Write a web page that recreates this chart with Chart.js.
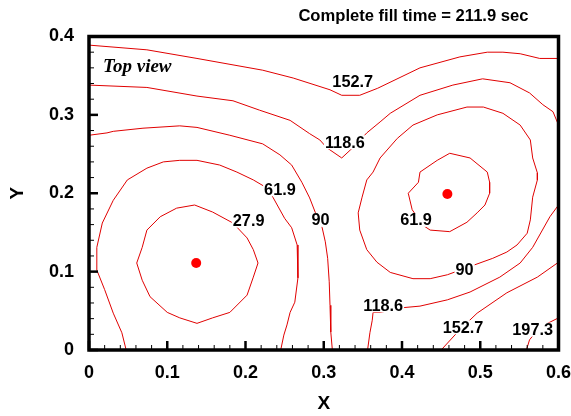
<!DOCTYPE html>
<html>
<head>
<meta charset="utf-8">
<script src="https://cdn.jsdelivr.net/npm/chart.js@4/dist/chart.umd.min.js"></script>
<style>
html,body{margin:0;padding:0;background:#fff;}
#wrap{width:571px;height:416px;}
</style>
</head>
<body>
<div id="wrap"><canvas id="c" width="571" height="416"></canvas></div>
<script>
// ---- data ----
const X_TICK_LABELS = ['0','0.1','0.2','0.3','0.4','0.5','0.6'];
const Y_TICK_LABELS = ['0','0.1','0.2','0.3','0.4'];

const C152_TOP = [[0,0.389],[0.074,0.383],[0.138,0.372],[0.222,0.357],[0.261,0.347],[0.308,0.332],[0.323,0.325],[0.346,0.325],[0.369,0.334],[0.423,0.360],[0.474,0.374],[0.509,0.380],[0.529,0.380],[0.551,0.378],[0.576,0.372],[0.6,0.372]];
const C118_TOP = [[0,0.338],[0.074,0.335],[0.138,0.324],[0.184,0.318],[0.218,0.306],[0.257,0.293],[0.282,0.276],[0.295,0.268],[0.304,0.258],[0.323,0.245],[0.337,0.258],[0.355,0.277],[0.372,0.291],[0.385,0.302],[0.423,0.325],[0.465,0.338],[0.503,0.346],[0.538,0.341],[0.563,0.328],[0.580,0.313],[0.593,0.304],[0.6,0.287]];
const C90_LEFT = [[0,0.274],[0.023,0.277],[0.031,0.279],[0.069,0.283],[0.116,0.286],[0.138,0.284],[0.180,0.274],[0.222,0.263],[0.244,0.249],[0.259,0.236],[0.272,0.214],[0.282,0.194],[0.289,0.176],[0.298,0.156],[0.302,0.138],[0.305,0.117],[0.307,0.087],[0.308,0.057],[0.309,0.023],[0.311,0]];
const C61_LEFT = [[0.0475,0],[0.042,0.022],[0.031,0.047],[0.020,0.077],[0.010,0.102],[0.010,0.131],[0.017,0.162],[0.031,0.191],[0.049,0.217],[0.074,0.232],[0.095,0.240],[0.116,0.242],[0.138,0.242],[0.167,0.236],[0.189,0.227],[0.210,0.217],[0.227,0.207],[0.235,0.195],[0.250,0.168],[0.259,0.156],[0.266,0.134],[0.267,0.108],[0.267,0.092],[0.263,0.061],[0.257,0.048],[0.253,0.032],[0.249,0.019],[0.245,0]];
const C27_LEFT = [[0.135,0.185],[0.158,0.176],[0.184,0.162],[0.202,0.143],[0.210,0.128],[0.216,0.111],[0.210,0.093],[0.202,0.070],[0.180,0.048],[0.158,0.041],[0.138,0.034],[0.116,0.041],[0.100,0.048],[0.078,0.068],[0.068,0.089],[0.061,0.111],[0.068,0.131],[0.074,0.153],[0.091,0.170],[0.112,0.181],[0.135,0.185]];
const C61_RIGHT = [[0.461,0.251],[0.487,0.245],[0.509,0.227],[0.512,0.214],[0.512,0.200],[0.506,0.185],[0.496,0.175],[0.483,0.163],[0.461,0.151],[0.436,0.153],[0.427,0.159],[0.413,0.179],[0.408,0.200],[0.421,0.214],[0.423,0.227],[0.445,0.242],[0.461,0.251]];
const C90_RIGHT = [[0.355,0.217],[0.363,0.227],[0.372,0.245],[0.394,0.270],[0.414,0.287],[0.445,0.300],[0.483,0.310],[0.504,0.310],[0.529,0.302],[0.551,0.287],[0.564,0.268],[0.567,0.245],[0.573,0.226],[0.573,0.217],[0.567,0.195],[0.564,0.166],[0.560,0.149],[0.547,0.134],[0.534,0.125],[0.516,0.117],[0.491,0.108],[0.458,0.096],[0.436,0.091],[0.414,0.091],[0.385,0.099],[0.368,0.112],[0.355,0.128],[0.346,0.153],[0.344,0.175],[0.349,0.195],[0.355,0.217]];
const C118_BOT = [[0.6,0.185],[0.589,0.170],[0.567,0.131],[0.551,0.111],[0.525,0.093],[0.487,0.074],[0.458,0.064],[0.423,0.056],[0.401,0.054],[0.372,0.048],[0.363,0.048],[0.362,0.038],[0.359,0.022],[0.356,0]];
const C152_BOT = [[0.6,0.112],[0.573,0.093],[0.534,0.073],[0.496,0.047],[0.474,0.026],[0.450,0]];
const C197_BOT = [[0.6,0.041],[0.576,0.029],[0.563,0.013],[0.559,0]];

const SOURCE_POINTS = [[0.137,0.111],[0.458,0.199]];

const LABEL_TEXTS = ['152.7','118.6','61.9','27.9','90','61.9','90','118.6','152.7','197.3'];
const LABEL_X     = [0.337, 0.327, 0.244, 0.204, 0.296, 0.418, 0.480, 0.376, 0.478, 0.567];
const LABEL_Y     = [0.342, 0.265, 0.205, 0.165, 0.166, 0.166, 0.103, 0.057, 0.029, 0.026];

const TITLE_TEXT = 'Complete fill time = 211.9 sec';
const NOTE_TEXT = 'Top view';

// ---- chart ----
const CONTOURS = [C152_TOP, C118_TOP, C90_LEFT, C61_LEFT, C27_LEFT, C61_RIGHT, C90_RIGHT, C118_BOT, C152_BOT, C197_BOT];
const toPts = arr => arr.map(p => ({x: p[0], y: p[1]}));

const datasets = CONTOURS.map(c => ({
  type: 'scatter', data: toPts(c), showLine: true, borderColor: '#e00000', borderWidth: 1,
  pointRadius: 0, fill: false, tension: 0
}));
datasets.push({type:'scatter', data: toPts(SOURCE_POINTS), showLine:false, pointRadius:5,
  backgroundColor:'#ff0000', borderWidth:0, pointStyle:'circle'});

const SANS = 'Liberation Sans, Arial, Helvetica, sans-serif';

const decor = {
  id: 'decor',
  afterDatasetsDraw(chart) {
    const ctx = chart.ctx, xs = chart.scales.x, ys = chart.scales.y;
    ctx.save();
    ctx.font = 'bold 16.3px ' + SANS;
    ctx.textAlign = 'center';
    ctx.textBaseline = 'middle';
    LABEL_TEXTS.forEach((t, i) => {
      const px = xs.getPixelForValue(LABEL_X[i]);
      const py = ys.getPixelForValue(LABEL_Y[i]);
      const w = ctx.measureText(t).width;
      ctx.fillStyle = '#fff';
      ctx.fillRect(px - w/2 - 1, py - 7, w + 2, 14);
      ctx.fillStyle = '#000';
      ctx.fillText(t, px, py + 1);
    });
    ctx.font = 'italic bold 19px Liberation Serif, Times New Roman, serif';
    ctx.textAlign = 'left';
    ctx.fillText(NOTE_TEXT, xs.getPixelForValue(0.018), ys.getPixelForValue(0.361));
    ctx.restore();
  },
  afterDraw(chart) {
    const ctx = chart.ctx, xs = chart.scales.x, ys = chart.scales.y;
    const a = chart.chartArea;
    ctx.save();
    ctx.strokeStyle = '#000';
    for (let i = 0; i <= 30; i++) {
      const v = i * 0.02;
      const major = i % 5 === 0;
      const px = xs.getPixelForValue(v);
      ctx.lineWidth = major ? 2.5 : 1;
      ctx.beginPath();
      ctx.moveTo(px, a.bottom);
      ctx.lineTo(px, a.bottom - (major ? 9 : 5));
      ctx.stroke();
    }
    for (let i = 0; i <= 20; i++) {
      const v = i * 0.02;
      const major = i % 5 === 0;
      const py = ys.getPixelForValue(v);
      ctx.lineWidth = major ? 2.5 : 1;
      ctx.beginPath();
      ctx.moveTo(a.left, py);
      ctx.lineTo(a.left + (major ? 9 : 5), py);
      ctx.stroke();
    }
    ctx.lineWidth = 3.5;
    ctx.strokeRect(a.left, a.top, a.right - a.left, a.bottom - a.top);
    ctx.fillStyle = '#000';
    ctx.font = 'bold 16.6px ' + SANS;
    ctx.textAlign = 'right';
    ctx.textBaseline = 'middle';
    ctx.fillText(TITLE_TEXT, a.right - 30, 16);
    ctx.restore();
  }
};

new Chart(document.getElementById('c'), {
  type: 'scatter',
  data: { datasets },
  options: {
    responsive: false,
    animation: false,
    devicePixelRatio: 1,
    layout: { padding: { top: 36.5, right: 12.5, left: 0, bottom: 0 } },
    plugins: { legend: {display:false}, tooltip: {enabled:false}, title: {display:false} },
    scales: {
      x: {
        type: 'linear', position: 'bottom', min: 0, max: 0.6,
        afterFit: s => { s.height = 66; s.paddingLeft = 0; s.paddingRight = 0; },
        grid: { display:false, drawTicks:false },
        border: { display:false },
        ticks: {
          stepSize: 0.1, padding: 12, color: '#000',
          font: { family: SANS, size: 18, weight: 'bold' },
          callback: (v) => X_TICK_LABELS[Math.round(v / 0.1)]
        },
        title: { display: true, text: 'X', color:'#000',
          font: { family: SANS, size: 19, weight: 'bold' }, padding: {top:0, bottom:1} }
      },
      y: {
        type: 'linear', position: 'left', min: 0, max: 0.4,
        afterFit: s => { s.width = 89; s.paddingTop = 0; s.paddingBottom = 0; },
        grid: { display:false, drawTicks:false },
        border: { display:false },
        ticks: {
          stepSize: 0.1, padding: 15, color: '#000',
          font: { family: SANS, size: 18, weight: 'bold' },
          callback: (v) => Y_TICK_LABELS[Math.round(v / 0.1)]
        },
        title: { display: true, text: 'Y', color:'#000',
          font: { family: SANS, size: 19, weight: 'bold' }, padding: {top:6, bottom:0} }
      }
    }
  },
  plugins: [decor]
});
</script>
</body>
</html>
